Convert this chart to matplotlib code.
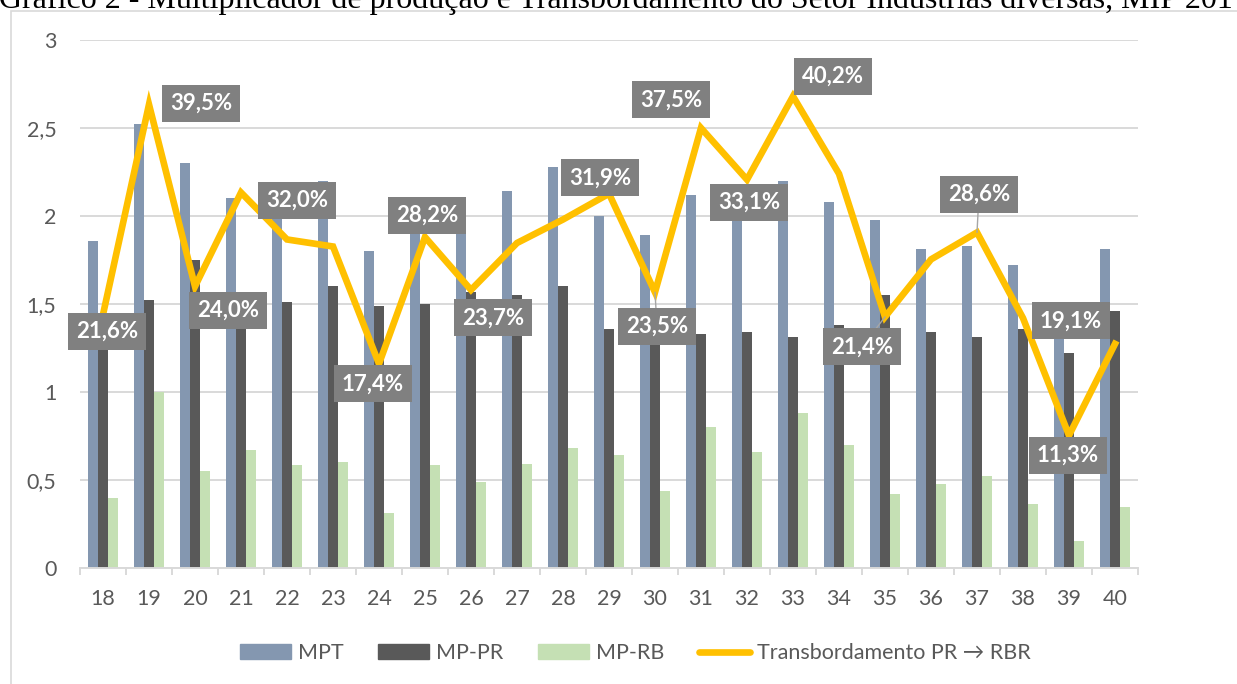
import matplotlib
matplotlib.use("Agg")
import matplotlib.pyplot as plt
from matplotlib.patches import Rectangle
from matplotlib.lines import Line2D
from matplotlib.ticker import FuncFormatter, FixedLocator
import numpy as np

plt.rcParams['font.family'] = ['Lato', 'DejaVu Sans']

categories = ['18', '19', '20', '21', '22', '23', '24', '25', '26', '27', '28', '29',
              '30', '31', '32', '33', '34', '35', '36', '37', '38', '39', '40']
mpt = [1.86, 2.52, 2.30, 2.10, 2.05, 2.20, 1.80, 1.91, 1.91, 2.14, 2.28, 2.00,
       1.89, 2.12, 2.03, 2.20, 2.08, 1.98, 1.81, 1.83, 1.72, 1.35, 1.81]
mp_pr = [1.42, 1.52, 1.75, 1.45, 1.51, 1.60, 1.49, 1.50, 1.57, 1.55, 1.60, 1.36,
         1.32, 1.33, 1.34, 1.31, 1.38, 1.55, 1.34, 1.31, 1.36, 1.22, 1.46]
mp_rb = [0.40, 1.00, 0.55, 0.67, 0.585, 0.60, 0.31, 0.587, 0.487, 0.59, 0.68, 0.64,
         0.44, 0.80, 0.66, 0.88, 0.70, 0.42, 0.48, 0.525, 0.365, 0.155, 0.347]
transb = [21.6, 39.5, 24.0, 32.0, 28.0, 27.4, 17.4, 28.2, 23.7, 27.7, 29.7, 31.9,
          23.5, 37.5, 33.1, 40.2, 33.6, 21.4, 26.3, 28.6, 21.3, 11.3, 19.1]
labeled = ['18', '19', '20', '21', '24', '25', '26', '29', '30', '31', '32', '33',
           '35', '37', '39', '40']
legend_labels = ['MPT', 'MP-PR', 'MP-RB', 'Transbordamento PR \u2192 RBR']
title = 'Gráfico 2 - Multiplicador de produção e Transbordamento do Setor Indústrias diversas, MIP 201'

# label offsets (pixels) relative to point
offsets = {'18': (4, -17), '19': (52, 1), '20': (33, -24), '21': (56, -8),
           '24': (-6, -20), '25': (2, 22), '26': (22, -28), '29': (-9, 16),
           '30': (2, -34), '31': (-30, 28), '32': (2, -23), '33': (40, 20),
           '35': (-23, -30), '37': (2, 38), '39': (-1, -20), '40': (-44, 23)}
leaders = {'30', '35', '37'}

W, H = 1237, 684
fig = plt.figure(figsize=(W / 100, H / 100), dpi=100)

# chart frame
fig.patches.append(Rectangle((11 / W, -0.05), 1.1, 1 - 11 / H + 0.05, transform=fig.transFigure,
                             fill=False, edgecolor='#d9d9d9', linewidth=1.2))
fig.text(-0.001, 1 - 8 / H, title, family='Liberation Serif', fontsize=23.0,
         va='baseline', ha='left', color='black')

ax = fig.add_axes([80 / W, 1 - 568 / H, (1138 - 80) / W, (568 - 40) / H])
x = np.arange(len(categories))
bw = 0.22
c_mpt, c_pr, c_rb, c_line = '#8497B0', '#595959', '#C5E0B4', '#FFC000'
ax.bar(x - bw, mpt, bw, color=c_mpt, zorder=2)
ax.bar(x, mp_pr, bw, color=c_pr, zorder=2)
ax.bar(x + bw, mp_rb, bw, color=c_rb, zorder=2)
ax.set_xlim(-0.5, len(categories) - 0.5)
ax.set_ylim(0, 3)
ax.set_yticks([0, 0.5, 1, 1.5, 2, 2.5, 3])
ax.yaxis.set_major_formatter(FuncFormatter(lambda v, p: ('%g' % v).replace('.', ',')))
ax.grid(axis='y', color='#d9d9d9', linewidth=1.4)
ax.set_axisbelow(True)
for s in ['top', 'right', 'left']:
    ax.spines[s].set_visible(False)
ax.spines['bottom'].set_color('#d9d9d9')
ax.spines['bottom'].set_linewidth(1.4)
ax.set_xticks(x)
ax.set_xticklabels(categories)
ax.xaxis.set_minor_locator(FixedLocator(np.arange(-0.5, len(categories), 1.0)))
ax.tick_params(axis='x', which='major', length=0, pad=15, labelsize=15.5, labelcolor='#595959')
ax.tick_params(axis='x', which='minor', length=5, width=1.4, color='#d9d9d9')
ax.tick_params(axis='y', length=0, pad=17, labelsize=15.5, labelcolor='#595959')

ax2 = ax.twinx()
ax2.set_ylim(0, 0.45)
ax2.axis('off')
vals = np.array(transb) / 100
ax2.plot(x, vals, color=c_line, linewidth=4.8, solid_joinstyle='miter', zorder=3)
for i, c in enumerate(categories):
    if c not in labeled:
        continue
    dx, dy = offsets[c]
    ap = dict(arrowstyle='-', color='#a6a6a6', lw=1.0, shrinkA=0, shrinkB=0) if c in leaders else None
    ax2.annotate(('%.1f%%' % transb[i]).replace('.', ','), xy=(x[i], vals[i]),
                 xytext=(dx, dy), textcoords='offset pixels', ha='center', va='center',
                 color='white', fontweight='bold', fontsize=16,
                 bbox=dict(boxstyle='square,pad=0.36', fc='#808080', ec='none'),
                 arrowprops=ap, zorder=5)

handles = [Rectangle((0, 0), 1, 1, color=c_mpt), Rectangle((0, 0), 1, 1, color=c_pr),
           Rectangle((0, 0), 1, 1, color=c_rb),
           Line2D([0], [0], color=c_line, linewidth=4.8, solid_capstyle='round')]
fig.legend(handles, legend_labels, loc='center', bbox_to_anchor=(635 / W, 1 - 653 / H),
           ncol=4, frameon=False, fontsize=15.5, labelcolor='#595959',
           handlelength=2.4, handleheight=0.65, handletextpad=0.3, columnspacing=1.6)

fig.savefig('out.png', dpi=100)
